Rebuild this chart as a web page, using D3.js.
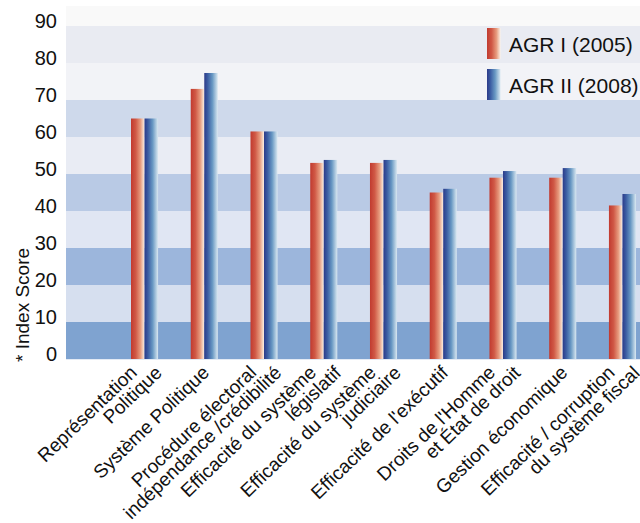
<!DOCTYPE html>
<html>
<head>
<meta charset="utf-8">
<script src="https://d3js.org/d3.v7.min.js"></script>
<style>
  body { margin: 0; background: #fff; }
  text { font-family: "Liberation Sans", Arial, Helvetica, sans-serif; fill: #111; }
</style>
</head>
<body>
<div id="chart"></div>
<script>
// Index scores
const categories = [
  "Représentation\nPolitique",
  "Système Politique",
  "Procédure électoral\nindépendance /crédibilité",
  "Efficacité du système\nlégislatif",
  "Efficacité du système\njudiciaire",
  "Efficacité de l'exécutif",
  "Droits de l'Homme\net État de droit",
  "Gestion économique",
  "Efficacité / corruption\ndu système fiscal"
];
const seriesNames = ["AGR I (2005)", "AGR II (2008)"];
const agr2005 = [65, 73, 61.5, 53, 53, 45, 49, 49, 41.5];
const agr2008 = [65, 77.3, 61.5, 53.8, 53.8, 46, 50.8, 51.6, 44.6];
const yTicks = [0, 10, 20, 30, 40, 50, 60, 70, 80, 90];
const yTitle = "* Index Score";

class IndexChart {

  constructor() {
    this.width = 640;
    this.height = 523;
    this.plotLeft = 66;
    this.plotRight = 640;
    this.plotTop = 6;
    this.plotBottom = 359;

    this.svg = d3.select("#chart").append("svg")
      .attr("width", this.width)
      .attr("height", this.height);

    //Scales
    this.yScale = d3.scaleLinear().domain([0, 90]).range([this.plotBottom, 26]);
    this.xScale = d3.scaleBand().domain(categories).range([131, 636])
      .paddingInner(0.547).paddingOuter(0);
    this.subScale = d3.scaleBand().domain(seriesNames).range([0, this.xScale.bandwidth()]);

    // alternating stripes, dark at the bottom and fading upward
    this.bandColors = ["#7fa3d0", "#d6dfef", "#9cb6dc", "#e0e6f3", "#b9cae5",
                       "#e9ecf4", "#ced9eb", "#f2f3f7", "#e9ebf2", "#f9f9f9"];

    this.makeGradients();
  }

  makeGradients() {
    let defs = this.svg.append("defs");
    let stops = {
      red: [["0%", "#c13a2f"], ["35%", "#d05946"], ["70%", "#e79b7e"], ["100%", "#fcf0e4"]],
      blue: [["0%", "#2c3a89"], ["25%", "#3b5ca2"], ["60%", "#6898c3"], ["100%", "#dae8f1"]]
    };
    Object.keys(stops).forEach(k => {
      let g = defs.append("linearGradient").attr("id", "grad-" + k)
        .attr("x1", 0).attr("x2", 1).attr("y1", 0).attr("y2", 0);
      g.selectAll("stop").data(stops[k]).enter().append("stop")
        .attr("offset", d => d[0]).attr("stop-color", d => d[1]);
    });
    this.fills = d3.scaleOrdinal().domain(seriesNames).range(["url(#grad-red)", "url(#grad-blue)"]);
  }

  drawBackground() {
    let y = this.yScale;
    let bands = yTicks.map((t, i) => ({
      top: i < yTicks.length - 1 ? y(yTicks[i + 1]) : this.plotTop,
      bottom: y(t),
      color: this.bandColors[i]
    }));
    this.svg.append("g").selectAll("rect").data(bands).enter().append("rect")
      .attr("x", this.plotLeft)
      .attr("width", this.plotRight - this.plotLeft)
      .attr("y", d => d.top)
      .attr("height", d => d.bottom - d.top)
      .attr("fill", d => d.color);

    this.svg.append("line")
      .attr("x1", this.plotLeft).attr("x2", this.plotRight)
      .attr("y1", this.plotBottom + 0.5).attr("y2", this.plotBottom + 0.5)
      .attr("stroke", "#e3eaf4");
  }

  drawBars() {
    let rows = categories.map((c, i) => ({
      cat: c,
      values: [{name: seriesNames[0], v: agr2005[i]}, {name: seriesNames[1], v: agr2008[i]}]
    }));
    let groups = this.svg.append("g").selectAll("g").data(rows).enter().append("g")
      .attr("transform", d => `translate(${this.xScale(d.cat)}, 0)`);
    groups.selectAll("rect").data(d => d.values).enter().append("rect")
      .attr("x", d => this.subScale(d.name))
      .attr("width", this.subScale.bandwidth())
      .attr("y", d => this.yScale(d.v))
      .attr("height", d => this.plotBottom - this.yScale(d.v))
      .attr("fill", d => this.fills(d.name));
  }

  drawAxes() {
    // y tick labels only, no axis line
    this.svg.append("g").selectAll("text").data(yTicks).enter().append("text")
      .attr("x", 57)
      .attr("y", d => this.yScale(d) + 1.5)
      .attr("text-anchor", "end")
      .attr("font-size", 20)
      .text(d => d);

    this.svg.append("text")
      .attr("transform", "translate(29, 362) rotate(-90)")
      .attr("font-size", 19)
      .text(yTitle);

    // rotated category labels, lines stepped along the slope
    let lh = 17.7;
    let labels = this.svg.append("g").selectAll("g").data(categories).enter().append("g")
      .attr("transform", d => `translate(${this.xScale(d) + this.xScale.bandwidth() / 2 + 6}, 374) rotate(-44)`);
    labels.selectAll("text").data(d => {
      let lines = d.split("\n");
      return lines.map((t, i) => ({t: t, off: (i - (lines.length - 1) / 2) * lh}));
    }).enter().append("text")
      .attr("x", d => d.off)
      .attr("y", d => d.off)
      .attr("text-anchor", "end")
      .attr("font-size", 19)
      .text(d => d.t);
  }

  drawLegend() {
    let legend = this.svg.append("g").selectAll("g").data(seriesNames).enter().append("g")
      .attr("transform", (d, i) => `translate(487, ${28 + i * 41})`);
    legend.append("rect")
      .attr("width", 13.5).attr("height", 31)
      .attr("fill", d => this.fills(d));
    legend.append("text")
      .attr("x", 22).attr("y", 23.5)
      .attr("font-size", 21)
      .text(d => d);
  }

  update() {
    this.drawBackground();
    this.drawBars();
    this.drawAxes();
    this.drawLegend();
  }
}

let chart = new IndexChart();
chart.update();
</script>
</body>
</html>
